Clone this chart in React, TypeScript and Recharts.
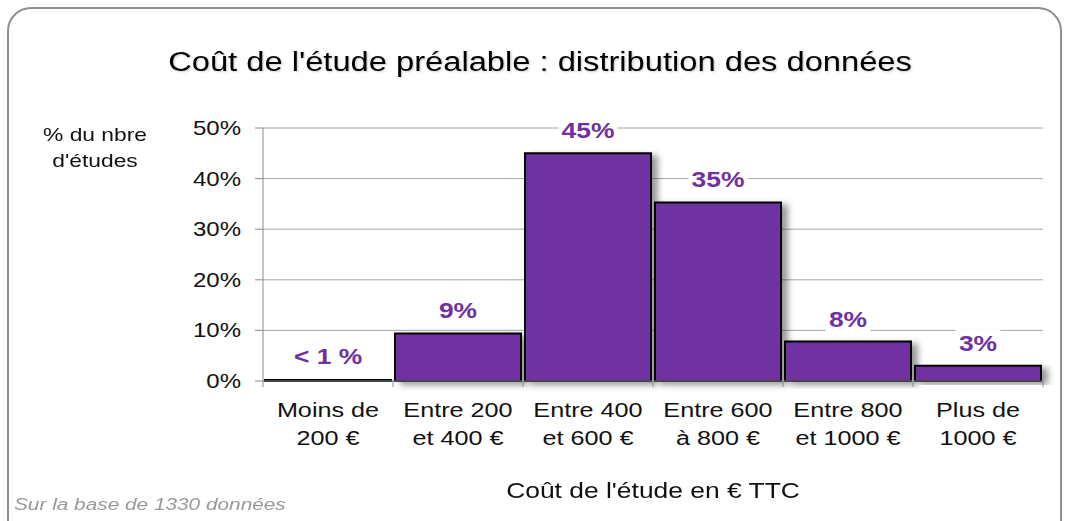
import { BarChart, Bar, XAxis, YAxis, CartesianGrid, LabelList } from "recharts";

const CATEGORY_TOP = ["Moins de", "Entre 200", "Entre 400", "Entre 600", "Entre 800", "Plus de"];
const CATEGORY_BOTTOM = ["200 €", "et 400 €", "et 600 €", "à 800 €", "et 1000 €", "1000 €"];
const SHARE = [0.3, 9.4, 45, 35.3, 7.8, 3];
const SHARE_LABELS = ["< 1 %", "9%", "45%", "35%", "8%", "3%"];
const Y_TICKS = [0, 10, 20, 30, 40, 50];

const PURPLE = "#7030A0";
const FONT = "'Liberation Sans', Arial, sans-serif";
const SX = 1.2; // the source text is stretched horizontally

const data = CATEGORY_TOP.map((c, i) => ({ name: c, value: SHARE[i] }));

function XTick(props: any) {
  const { x, y, payload, index } = props;
  const half = payload.offset ?? 65;
  return (
    <g>
      <line x1={x - half} x2={x - half} y1={y} y2={y + 6} stroke="#8c8c8c" />
      {index === CATEGORY_TOP.length - 1 && (
        <line x1={x + half} x2={x + half} y1={y} y2={y + 6} stroke="#8c8c8c" />
      )}
      <g transform={`translate(${x},${y}) scale(${SX},1)`}>
        <text x={0} y={36} textAnchor="middle" fontSize={21} fontFamily={FONT} fill="#111">
          {CATEGORY_TOP[index]}
        </text>
        <text x={0} y={64} textAnchor="middle" fontSize={21} fontFamily={FONT} fill="#111">
          {CATEGORY_BOTTOM[index]}
        </text>
      </g>
    </g>
  );
}

function YTick(props: any) {
  const { x, y, payload } = props;
  return (
    <g transform={`translate(${x},${y}) scale(${SX},1)`}>
      <text x={0} y={7} textAnchor="end" fontSize={20} fontFamily={FONT} fill="#111">
        {payload.value}%
      </text>
    </g>
  );
}

function BarLabel(props: any) {
  const { x, y, width, index } = props;
  const cx = x + width / 2;
  const cy = y - 23;
  const text = SHARE_LABELS[index];
  const w = text.length * 12 * SX + 16;
  return (
    <g>
      <rect x={cx - w / 2} y={cy - 13} width={w} height={26} fill="#fff" />
      <g transform={`translate(${cx},${cy}) scale(${SX},1)`}>
        <text x={0} y={8} textAnchor="middle" fontSize={22} fontWeight="bold" fontFamily={FONT} fill={PURPLE}>
          {text}
        </text>
      </g>
    </g>
  );
}

const scaled = (extra: React.CSSProperties = {}): React.CSSProperties => ({
  position: "absolute",
  fontFamily: FONT,
  whiteSpace: "nowrap",
  transform: `scaleX(${SX})`,
  ...extra,
});

export default function App() {
  return (
    <div style={{ position: "absolute", left: 0, top: 0, width: 1068, height: 521, overflow: "hidden", background: "#fff" }}>
      <div
        style={{
          position: "absolute",
          left: 7,
          top: 7,
          width: 1055,
          height: 540,
          border: "2px solid #8f8f8f",
          borderRadius: 24,
          boxSizing: "border-box",
        }}
      />
      <div style={scaled({ left: 6, width: 1068, top: 47, fontSize: 27, textAlign: "center", color: "#000", transformOrigin: "534px 0", transform: "scaleX(1.21)", textShadow: "1px 1px 2px rgba(0,0,0,0.2)" })}>
        Coût de l'étude préalable : distribution des données
      </div>
      <div style={scaled({ left: 40, width: 110, top: 122, fontSize: 19, lineHeight: "26px", textAlign: "center", color: "#111", transformOrigin: "55px 0" })}>
        % du nbre
        <br />
        d'études
      </div>
      <div style={scaled({ left: 453, width: 400, top: 478, fontSize: 22, textAlign: "center", color: "#111", transformOrigin: "200px 0" })}>
        Coût de l'étude en € TTC
      </div>
      <div style={scaled({ left: 14, top: 496, fontSize: 16, fontStyle: "italic", color: "#999", transformOrigin: "0 0", transform: "scaleX(1.3)" })}>
        Sur la base de 1330 données
      </div>
      <div style={{ position: "absolute", left: 0, top: 0 }}>
        <BarChart
          width={1068}
          height={521}
          data={data}
          margin={{ top: 128, right: 25, bottom: 40, left: 183 }}
          barCategoryGap={2}
        >
          <defs>
            <filter id="barShadow" x="-10%" y="-10%" width="130%" height="130%">
              <feDropShadow dx={6} dy={3} stdDeviation={3} floodColor="#000" floodOpacity={0.4} />
            </filter>
          </defs>
          <CartesianGrid vertical={false} stroke="#a6a6a6" />
          <XAxis
            dataKey="name"
            height={100}
            tickLine={false}
            tickSize={0}
            tickMargin={0}
            axisLine={{ stroke: "#8c8c8c" }}
            tick={<XTick />}
            interval={0}
          />
          <YAxis
            width={80}
            domain={[0, 50]}
            ticks={Y_TICKS}
            interval={0}
            tickSize={8}
            tickMargin={14}
            tickLine={{ stroke: "#8c8c8c" }}
            axisLine={{ stroke: "#8c8c8c" }}
            tick={<YTick />}
          />
          <Bar dataKey="value" fill={PURPLE} stroke="#000" strokeWidth={2} filter="url(#barShadow)" isAnimationActive={false}>
            <LabelList dataKey="value" content={<BarLabel />} />
          </Bar>
        </BarChart>
      </div>
    </div>
  );
}
